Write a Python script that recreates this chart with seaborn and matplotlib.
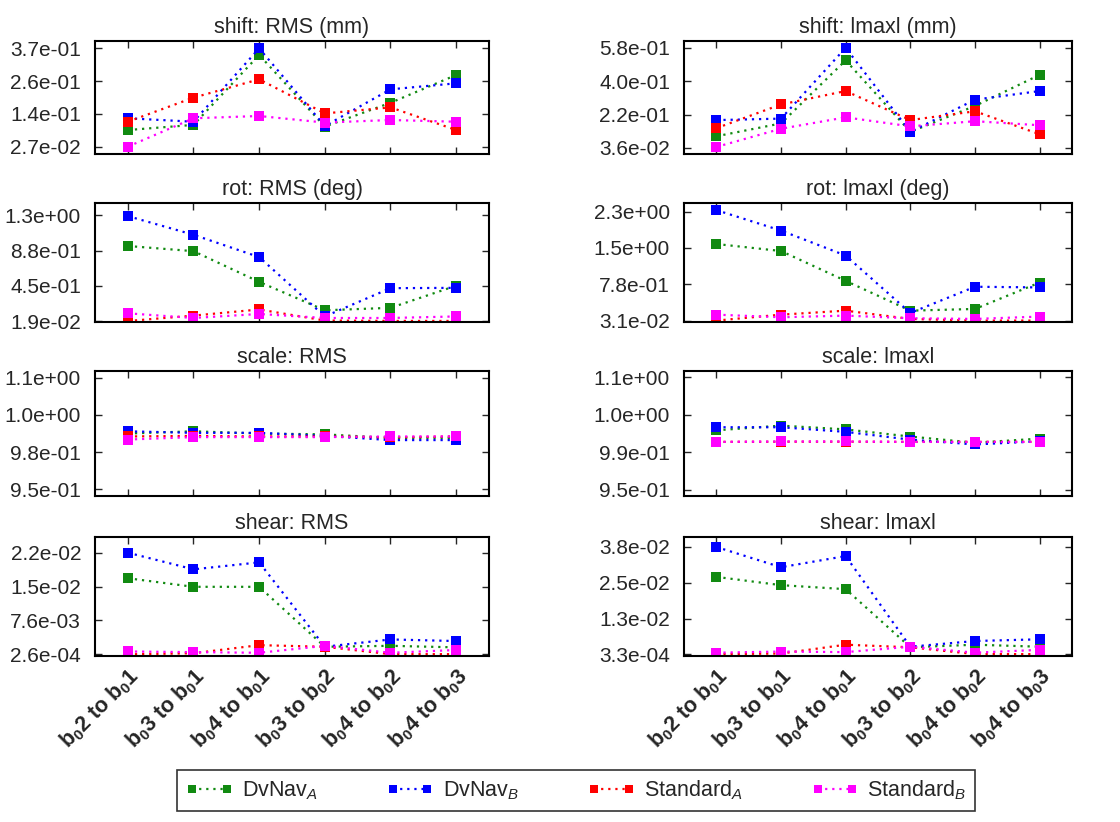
import numpy as np
import pandas as pd
import matplotlib
matplotlib.use("Agg")
import matplotlib.pyplot as plt
from matplotlib.lines import Line2D
from matplotlib.ticker import FixedLocator, FormatStrFormatter
import seaborn as sns

# ---------------- data ----------------
categories = [r"b$_{\mathbf{0}}$2 to b$_{\mathbf{0}}$1",
              r"b$_{\mathbf{0}}$3 to b$_{\mathbf{0}}$1",
              r"b$_{\mathbf{0}}$4 to b$_{\mathbf{0}}$1",
              r"b$_{\mathbf{0}}$3 to b$_{\mathbf{0}}$2",
              r"b$_{\mathbf{0}}$4 to b$_{\mathbf{0}}$2",
              r"b$_{\mathbf{0}}$4 to b$_{\mathbf{0}}$3"]
series = ["DvNav_A", "DvNav_B", "Standard_A", "Standard_B"]
legend_labels = [r"DvNav$_A$", r"DvNav$_B$", r"Standard$_A$", r"Standard$_B$"]
colors = ["#118a11", "#0000ff", "#ff0000", "#ff00ff"]

titles = ["shift: RMS (mm)", "shift: lmaxl (mm)",
          "rot: RMS (deg)", "rot: lmaxl (deg)",
          "scale: RMS", "scale: lmaxl",
          "shear: RMS", "shear: lmaxl"]

# tick range (lowest / highest labelled tick) per panel
tick_lo = [0.027, 0.036, 0.019, 0.031, 0.95, 0.95, 0.00026, 0.00033]
tick_hi = [0.37, 0.58, 1.31, 2.27, 1.052, 1.06, 0.0223, 0.038]
# axis limits per panel
ylim_lo = [0.0014, 0.0027, 0.007, 0.002, 0.944, 0.944, -0.0001, -0.00026]
ylim_hi = [0.3956, 0.617, 1.46, 2.446, 1.058, 1.066, 0.0257, 0.0415]

shift_rms = {"DvNav_A":    [0.085, 0.103, 0.347, 0.097, 0.180, 0.277],
             "DvNav_B":    [0.126, 0.114, 0.370, 0.099, 0.227, 0.248],
             "Standard_A": [0.114, 0.198, 0.262, 0.143, 0.164, 0.085],
             "Standard_B": [0.027, 0.126, 0.134, 0.111, 0.120, 0.114]}
shift_max = {"DvNav_A":    [0.099, 0.169, 0.512, 0.123, 0.264, 0.433],
             "DvNav_B":    [0.187, 0.195, 0.580, 0.123, 0.298, 0.345],
             "Standard_A": [0.143, 0.272, 0.345, 0.187, 0.235, 0.110],
             "Standard_B": [0.041, 0.140, 0.202, 0.153, 0.181, 0.159]}
rot_rms = {"DvNav_A":    [0.935, 0.872, 0.497, 0.150, 0.180, 0.450],
           "DvNav_B":    [1.300, 1.072, 0.800, 0.075, 0.420, 0.424],
           "Standard_A": [0.019, 0.085, 0.160, 0.025, 0.020, 0.020],
           "Standard_B": [0.113, 0.056, 0.105, 0.056, 0.056, 0.075]}
rot_max = {"DvNav_A":    [1.604, 1.460, 0.847, 0.235, 0.270, 0.813],
           "DvNav_B":    [2.300, 1.880, 1.367, 0.188, 0.726, 0.712],
           "Standard_A": [0.031, 0.153, 0.235, 0.065, 0.031, 0.031],
           "Standard_B": [0.153, 0.099, 0.133, 0.079, 0.065, 0.113]}
scale_rms = {"DvNav_A":    [1.0010, 1.0030, 1.0010, 1.0002, 0.9970, 0.9970],
             "DvNav_B":    [1.0030, 1.0016, 1.0016, 0.9988, 0.9950, 0.9950],
             "Standard_A": [0.9983, 0.9988, 0.9983, 0.9983, 0.9975, 0.9983],
             "Standard_B": [0.9955, 0.9977, 0.9977, 0.9977, 0.9983, 0.9983]}
scale_max = {"DvNav_A":    [1.0081, 1.0127, 1.0090, 1.0020, 0.9960, 1.0000],
             "DvNav_B":    [1.0111, 1.0111, 1.0066, 0.9990, 0.9943, 0.9974],
             "Standard_A": [0.9968, 0.9970, 0.9970, 0.9968, 0.9968, 0.9968],
             "Standard_B": [0.9968, 0.9972, 0.9972, 0.9968, 0.9968, 0.9968]}
shear_rms = {"DvNav_A":    [0.01676, 0.01490, 0.01490, 0.00190, 0.00211, 0.00177],
             "DvNav_B":    [0.02230, 0.01869, 0.02020, 0.00191, 0.00349, 0.00314],
             "Standard_A": [0.00026, 0.00050, 0.00225, 0.00190, 0.00030, 0.00030],
             "Standard_B": [0.00088, 0.00074, 0.00060, 0.00210, 0.00060, 0.00120]}
shear_max = {"DvNav_A":    [0.0275, 0.0246, 0.0232, 0.0028, 0.0037, 0.0030],
             "DvNav_B":    [0.0380, 0.0309, 0.0348, 0.0030, 0.0050, 0.0056],
             "Standard_A": [0.0004, 0.0006, 0.0037, 0.0028, 0.0004, 0.0004],
             "Standard_B": [0.0009, 0.0013, 0.0011, 0.0030, 0.0009, 0.0019]}

panels = [shift_rms, shift_max, rot_rms, rot_max,
          scale_rms, scale_max, shear_rms, shear_max]

# ---------------- style ----------------
sns.set_style("ticks")
plt.rcParams["font.family"] = ["Liberation Sans", "DejaVu Sans"]
plt.rcParams["mathtext.fontset"] = "custom"
plt.rcParams["mathtext.rm"] = "Liberation Sans"
plt.rcParams["mathtext.it"] = "Liberation Sans:italic"
plt.rcParams["mathtext.bf"] = "Liberation Sans:bold"

palette = dict(zip(series, colors))
dotted = (0, (1, 2.2))

fig = plt.figure(figsize=(11.2, 8.22), dpi=100)

col_x = [(95, 489), (684, 1072)]
row_y = [(41, 154), (203, 322), (371, 496), (537, 656)]
W, H = 1120.0, 822.0

for i, (vals, title) in enumerate(zip(panels, titles)):
    r, c = divmod(i, 2)
    x0, x1 = col_x[c]
    y0, y1 = row_y[r]
    ax = fig.add_axes([x0 / W, 1 - y1 / H, (x1 - x0) / W, (y1 - y0) / H])

    df = pd.DataFrame([{"pos": k, "value": v, "series": s}
                       for s in series for k, v in enumerate(vals[s])])
    sns.lineplot(data=df, x="pos", y="value", hue="series", hue_order=series,
                 palette=palette, marker="s", markersize=6.5,
                 markeredgewidth=0, linestyle=dotted, linewidth=1.6,
                 errorbar=None, legend=False, ax=ax)

    ax.set_xlim(-0.5, 5.5)
    ax.set_ylim(ylim_lo[i], ylim_hi[i])
    ax.yaxis.set_major_locator(FixedLocator(np.linspace(tick_lo[i], tick_hi[i], 4)))
    ax.yaxis.set_major_formatter(FormatStrFormatter("%.1e"))
    ax.set_xticks(range(len(categories)))
    ax.set_xlabel("")
    ax.set_ylabel("")
    ax.set_title(title, fontsize=15.5, pad=6)
    ax.tick_params(axis="both", direction="in", length=5, width=1,
                   top=True, right=True, labelsize=15)
    ax.tick_params(axis="y", pad=10)
    ax.tick_params(axis="x", pad=6)
    for sp in ax.spines.values():
        sp.set_visible(True)
        sp.set_linewidth(1.5)
        sp.set_color("black")
    if r == 3:
        ax.set_xticklabels(categories, rotation=45, ha="right",
                           rotation_mode="anchor", fontsize=15.5,
                           fontweight="bold")
    else:
        ax.set_xticklabels([])

handles = [Line2D([0], [0], color=col, marker="s", markersize=6,
                  markeredgewidth=0, linestyle=dotted, linewidth=1.6)
           for col in colors]
leg = fig.legend(handles, legend_labels, loc="center", ncol=4,
                 bbox_to_anchor=(177 / W, 1 - 815 / H, 798 / W, 49 / H),
                 mode="expand", frameon=True, fancybox=False,
                 edgecolor="black", fontsize=15.5, numpoints=2,
                 handlelength=2.2, handletextpad=0.4, borderaxespad=0)
leg.get_frame().set_linewidth(1.2)

fig.savefig("out.png", dpi=100)
